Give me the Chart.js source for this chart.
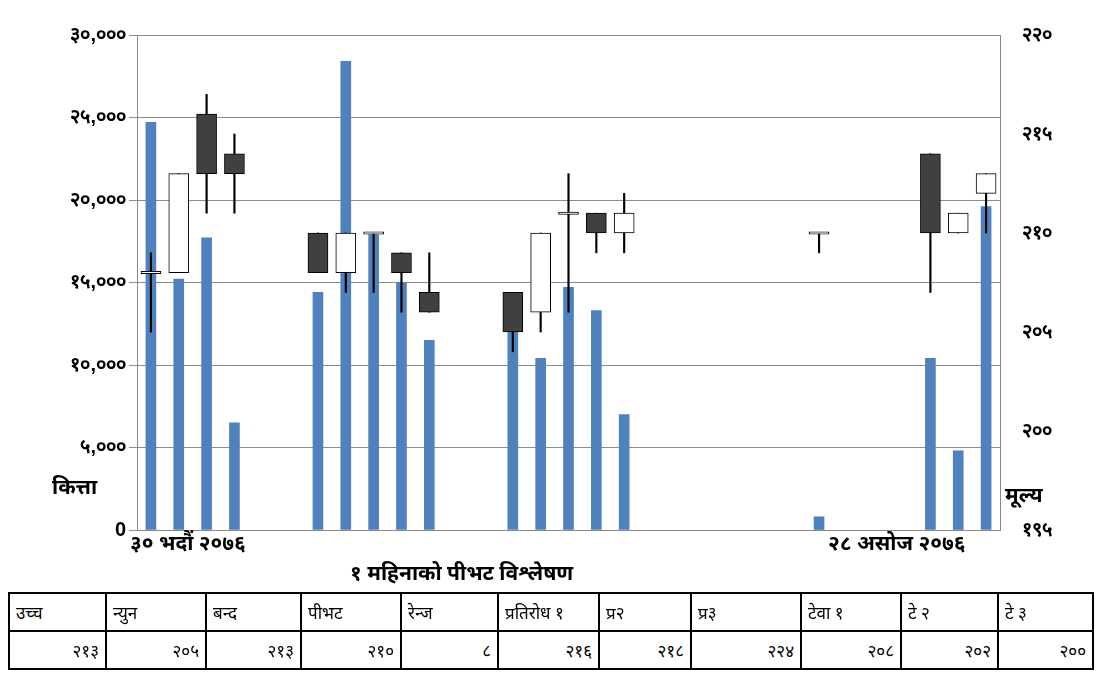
<!DOCTYPE html>
<html><head><meta charset="utf-8">
<script src="https://cdn.jsdelivr.net/npm/chart.js@4/dist/chart.umd.min.js"></script>
<style>
body{margin:0;background:#fff;font-family:"Noto Sans","DejaVu Sans",sans-serif;}
#wrap{position:absolute;left:0;top:0;width:1100px;height:560px;}
.lbl{position:absolute;font-weight:bold;font-size:21px;color:#000;white-space:nowrap;}
table{position:absolute;left:8px;top:592px;width:1084px;border-collapse:collapse;font-size:17px;table-layout:fixed;}
td{border:2px solid #000;height:36px;padding:0 6px;overflow:hidden;white-space:nowrap;}
tr.v td{text-align:right;}
</style></head><body>
<div id="wrap"><canvas id="c" width="1100" height="560"></canvas></div>
<div class="lbl" style="left:52px;top:472px">कित्ता</div>
<div class="lbl" style="left:1005px;top:480px">मूल्य</div>
<div class="lbl" style="left:130px;top:528px">३० भदौं २०७६</div>
<div class="lbl" style="left:828px;top:528px">२८ असोज २०७६</div>
<div class="lbl" style="left:350px;top:558px">१ महिनाको पीभट विश्लेषण</div>
<table id="t"></table>
<script>
const nep = s => String(s).replace(/[0-9]/g, d => "०१२३४५६७८९"[d]);

const days = Array.from({length: 31}, (_, i) => "d" + i);
const volume = [24700,15200,17700,6500,null,null,14400,28400,17900,15000,11500,null,null,12100,10400,14700,13300,7000,
  null,null,null,null,null,null,800,null,null,null,10400,4800,19600];
const open  = [208,208,216,214,null,null,210,208,210,209,207,null,null,207,206,211,211,210,null,null,null,null,null,null,210,null,null,null,214,210,212];
const close = [208,213,213,213,null,null,208,210,210,208,206,null,null,205,210,211,210,211,null,null,null,null,null,null,210,null,null,null,210,211,213];
const high  = [209,213,217,215,null,null,210,210,210,209,209,null,null,207,210,213,211,212,null,null,null,null,null,null,210,null,null,null,214,211,213];
const low   = [205,208,211,211,null,null,208,207,207,206,206,null,null,204,205,206,209,209,null,null,null,null,null,null,209,null,null,null,207,210,210];

const tblHead = ["उच्च","न्युन","बन्द","पीभट","रेन्ज","प्रतिरोध १","प्र२","प्र३","टेवा १","टे २","टे ३"];
const tblVals = [213,205,213,210,8,216,218,224,208,202,200];
const colW = [97,100,95,100,97,101,92,110,100,97,95];

const t = document.getElementById("t");
t.innerHTML = "<colgroup>" + colW.map(w => "<col style='width:" + w + "px'>").join("") + "</colgroup>" +
  "<tr>" + tblHead.map(h => "<td>" + h + "</td>").join("") + "</tr>" +
  "<tr class='v'>" + tblVals.map(v => "<td>" + nep(v) + "</td>").join("") + "</tr>";

const bodies = open.map((o, i) => o == null ? null : (o === close[i] ? [o - 0.06, o + 0.06] : [o, close[i]]));
const wicks = high.map((h, i) => h == null ? null : [low[i], h]);
const bodyColor = open.map((o, i) => close[i] < o ? "#404040" : "#fff");

new Chart(document.getElementById("c"), {
  type: "bar",
  data: {
    labels: days,
    datasets: [
      { data: bodies, yAxisID: "y2", backgroundColor: bodyColor, borderColor: "#000", borderWidth: 1,
        borderSkipped: false, barThickness: 20, grouped: false, order: 0 },
      { data: wicks, yAxisID: "y2", backgroundColor: "#000", barThickness: 1.5, grouped: false, order: 1 },
      { data: volume, yAxisID: "y", backgroundColor: "#4f81bd", barThickness: 10, grouped: false, order: 2 },
    ],
  },
  options: {
    responsive: false, animation: false,
    layout: { padding: { top: 35 } },
    plugins: { legend: { display: false }, tooltip: { enabled: false } },
    scales: {
      x: { ticks: { display: false }, grid: { display: false }, border: { color: "#888" },
        afterFit: s => { s.height = 30; } },
      y: { min: 0, max: 30000, ticks: { stepSize: 5000, color: "#000", font: { size: 20, weight: "bold" },
          callback: v => v === 0 ? "0" : nep(v.toLocaleString("en-US")) },
        grid: { color: "#8c8c8c" }, border: { color: "#888" },
        afterFit: s => { s.width = 137; } },
      y2: { position: "right", min: 195, max: 220,
        ticks: { stepSize: 5, color: "#000", font: { size: 20, weight: "bold" }, callback: v => nep(v), padding: 14 },
        grid: { display: false }, border: { color: "#888" },
        afterFit: s => { s.width = 100; } },
    },
  },
});
</script>
</body></html>
